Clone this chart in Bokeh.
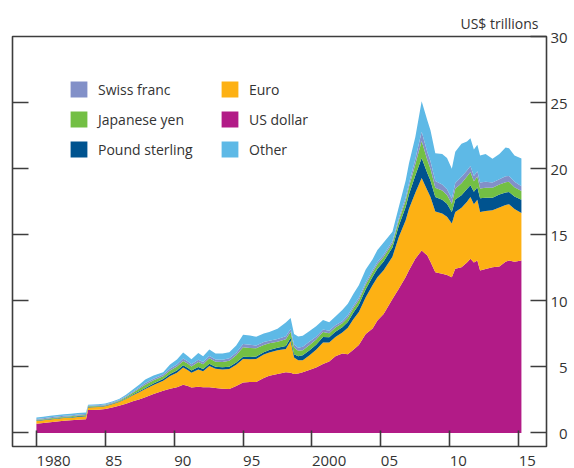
from bokeh.plotting import figure
from bokeh.models import (Range1d, FixedTicker, LinearAxis, Legend, LegendItem,
                          ColumnDataSource)
from bokeh.embed import file_html
from bokeh.resources import INLINE

# ---- data (US$ trillions) ----
years = [1980.00, 1980.50, 1981.00, 1981.50, 1982.00, 1982.50, 1983.00, 1983.60,
         1983.75, 1984.50, 1985.00, 1985.50, 1986.00, 1986.50, 1987.00, 1987.50,
         1987.90, 1988.50, 1989.20, 1989.70, 1990.20, 1990.65, 1991.00, 1991.25,
         1991.75, 1992.10, 1992.55, 1993.00, 1993.50, 1994.00, 1994.50, 1995.00,
         1995.50, 1995.95, 1996.50, 1996.90, 1997.50, 1998.10, 1998.45, 1998.70,
         1999.00, 1999.33, 1999.80, 2000.30, 2000.80, 2001.25, 2001.70, 2002.20,
         2002.60, 2003.00, 2003.40, 2003.90, 2004.40, 2004.75, 2005.20, 2005.84,
         2006.30, 2006.80, 2007.04, 2007.50, 2007.96, 2008.37, 2008.60, 2008.95,
         2009.45, 2009.80, 2010.15, 2010.40, 2010.85, 2011.25, 2011.50, 2011.75,
         2012.00, 2012.20, 2012.60, 2013.10, 2013.60, 2014.05, 2014.30, 2014.70,
         2015.20]
us_dollar = [0.70, 0.74, 0.80, 0.86, 0.92, 0.95, 1.00, 1.04,
             1.74, 1.76, 1.80, 1.92, 2.05, 2.20, 2.40, 2.55,
             2.70, 2.95, 3.19, 3.35, 3.45, 3.64, 3.55, 3.44,
             3.50, 3.45, 3.46, 3.40, 3.35, 3.32, 3.55, 3.82,
             3.85, 3.85, 4.15, 4.32, 4.45, 4.58, 4.55, 4.45,
             4.50, 4.58, 4.76, 4.95, 5.21, 5.40, 5.80, 6.00,
             5.95, 6.30, 6.65, 7.49, 7.90, 8.50, 9.00, 10.14,
             10.90, 11.80, 12.30, 13.18, 13.80, 13.43, 12.95, 12.16,
             12.04, 11.95, 11.78, 12.42, 12.54, 12.90, 13.18, 12.90,
             13.05, 12.29, 12.40, 12.54, 12.60, 12.95, 13.05, 12.95,
             13.05]
euro = [0.20, 0.21, 0.21, 0.21, 0.20, 0.20, 0.21, 0.21,
        0.19, 0.20, 0.22, 0.24, 0.28, 0.36, 0.45, 0.55,
        0.62, 0.68, 0.76, 0.95, 1.10, 1.30, 1.20, 1.12,
        1.30, 1.22, 1.60, 1.45, 1.45, 1.52, 1.60, 1.77,
        1.72, 1.75, 1.78, 1.77, 1.80, 1.77, 2.40, 1.26,
        1.00, 0.92, 1.10, 1.35, 1.64, 1.45, 1.45, 1.60,
        2.00, 2.30, 2.50, 2.78, 3.30, 3.28, 3.30, 3.20,
        3.92, 4.30, 4.67, 5.00, 5.50, 4.93, 4.90, 4.60,
        4.56, 4.40, 4.06, 4.30, 4.50, 4.60, 4.67, 4.40,
        4.60, 4.43, 4.40, 4.31, 4.45, 4.30, 4.25, 4.00,
        3.59]
pound_sterling = [0.04, 0.04, 0.04, 0.04, 0.04, 0.04, 0.04, 0.04,
                  0.03, 0.03, 0.03, 0.04, 0.04, 0.05, 0.06, 0.07,
                  0.08, 0.10, 0.13, 0.15, 0.17, 0.18, 0.17, 0.16,
                  0.18, 0.17, 0.18, 0.16, 0.16, 0.17, 0.17, 0.18,
                  0.18, 0.18, 0.18, 0.19, 0.20, 0.22, 0.25, 0.24,
                  0.30, 0.38, 0.38, 0.38, 0.40, 0.38, 0.40, 0.40,
                  0.45, 0.50, 0.55, 0.60, 0.62, 0.65, 0.68, 0.70,
                  0.85, 1.00, 1.10, 1.30, 1.50, 1.30, 1.25, 1.10,
                  1.05, 1.00, 0.88, 0.95, 0.95, 0.95, 0.90, 0.95,
                  0.95, 1.03, 1.00, 0.95, 1.00, 0.95, 0.93, 0.95,
                  1.01]
japanese_yen = [0.05, 0.05, 0.06, 0.06, 0.06, 0.06, 0.07, 0.07,
                0.05, 0.05, 0.05, 0.05, 0.06, 0.09, 0.13, 0.20,
                0.25, 0.25, 0.20, 0.28, 0.30, 0.33, 0.31, 0.30,
                0.38, 0.36, 0.40, 0.38, 0.40, 0.45, 0.55, 0.71,
                0.68, 0.62, 0.55, 0.50, 0.45, 0.52, 0.45, 0.52,
                0.42, 0.38, 0.40, 0.38, 0.38, 0.32, 0.32, 0.30,
                0.32, 0.33, 0.34, 0.36, 0.34, 0.33, 0.33, 0.32,
                0.40, 0.48, 0.55, 0.85, 1.30, 1.00, 0.90, 0.70,
                0.70, 0.66, 0.63, 0.80, 0.90, 0.95, 1.00, 0.80,
                0.80, 0.75, 0.75, 0.75, 0.75, 0.77, 0.77, 0.70,
                0.65]
swiss_franc = [0.06, 0.06, 0.07, 0.07, 0.07, 0.07, 0.07, 0.07,
               0.05, 0.05, 0.05, 0.05, 0.05, 0.07, 0.08, 0.10,
               0.12, 0.12, 0.13, 0.14, 0.16, 0.18, 0.17, 0.17,
               0.18, 0.17, 0.18, 0.17, 0.18, 0.18, 0.20, 0.25,
               0.24, 0.22, 0.21, 0.20, 0.20, 0.22, 0.22, 0.22,
               0.22, 0.25, 0.25, 0.22, 0.20, 0.18, 0.18, 0.15,
               0.18, 0.18, 0.18, 0.18, 0.17, 0.17, 0.17, 0.17,
               0.20, 0.24, 0.28, 0.40, 0.70, 0.60, 0.55, 0.50,
               0.45, 0.42, 0.38, 0.45, 0.50, 0.45, 0.45, 0.40,
               0.40, 0.45, 0.45, 0.40, 0.40, 0.45, 0.45, 0.40,
               0.36]
other = [0.11, 0.12, 0.12, 0.12, 0.13, 0.12, 0.12, 0.12,
         0.07, 0.08, 0.07, 0.08, 0.09, 0.12, 0.16, 0.22,
         0.28, 0.24, 0.18, 0.30, 0.38, 0.46, 0.40, 0.38,
         0.50, 0.43, 0.50, 0.44, 0.46, 0.46, 0.55, 0.70,
         0.70, 0.66, 0.66, 0.65, 0.78, 1.05, 0.83, 0.80,
         0.85, 0.85, 0.80, 0.80, 0.72, 0.64, 0.65, 0.85,
         0.87, 0.90, 0.95, 0.95, 0.82, 0.92, 0.92, 0.70,
         0.83, 1.28, 1.50, 1.67, 2.30, 2.41, 2.35, 2.10,
         2.30, 2.37, 2.27, 2.35, 2.50, 2.20, 2.10, 2.00,
         2.00, 2.05, 2.10, 1.80, 1.90, 2.18, 2.10, 2.00,
         2.10]

series_keys = ["us_dollar", "euro", "pound_sterling", "japanese_yen", "swiss_franc", "other"]
series_names = ["US dollar", "Euro", "Pound sterling", "Japanese yen", "Swiss franc", "Other"]
series_colors = ["#B21B87", "#FDB114", "#00538F", "#73BF44", "#8290C8", "#5EB9E6"]

x_tick_years = [1980, 1985, 1990, 1995, 2000, 2005, 2010, 2015]
x_tick_labels = ["1980", "85", "90", "95", "2000", "05", "10", "15"]
y_ticks = [0, 5, 10, 15, 20, 25, 30]
y_tick_labels = ["0", "5", "10", "15", "20", "25", "30"]

FONT = "Open Sans"
TEXT = "#333333"
FRAME = "#3d3d3d"

X0, X1 = 1978.265, 2017.02
FRAME_W = 536

source = ColumnDataSource(dict(
    x=years, us_dollar=us_dollar, euro=euro, pound_sterling=pound_sterling,
    japanese_yen=japanese_yen, swiss_franc=swiss_franc, other=other))

p = figure(width=570, height=468,
           x_range=Range1d(X0, X1), y_range=Range1d(-1.03, 30),
           output_backend="svg", toolbar_location=None,
           x_axis_location="below", y_axis_location="right",
           min_border_left=12, min_border_right=22,
           min_border_top=36, min_border_bottom=0)
p.grid.visible = False
p.outline_line_color = FRAME
p.outline_line_width = 1.6
p.background_fill_color = "white"
p.border_fill_color = "white"

renderers = p.varea_stack(series_keys, x="x", color=series_colors, source=source)
rmap = dict(zip(series_names, renderers))

# ---- x axis: tick marks at the years, labels starting at each tick ----
px_per_year = FRAME_W / (X1 - X0)
digit_px = 8.6
label_pos = [round(y + (len(t) * digit_px / 2) / px_per_year, 3)
             for y, t in zip(x_tick_years, x_tick_labels)]
xa = p.xaxis[0]
xa.ticker = FixedTicker(ticks=label_pos, minor_ticks=x_tick_years)
xa.major_label_overrides = {pos: t for pos, t in zip(label_pos, x_tick_labels)}
xa.major_tick_line_color = None
xa.minor_tick_line_color = FRAME
xa.minor_tick_line_width = 1.6
xa.minor_tick_in = 16
xa.minor_tick_out = 0
xa.axis_line_color = None
xa.major_label_standoff = 3
xa.major_label_text_font = FONT
xa.major_label_text_font_size = "15px"
xa.major_label_text_color = TEXT

# ---- right y axis with labels ----
ya = p.yaxis[0]
ya.ticker = FixedTicker(ticks=y_ticks)
ya.major_label_overrides = {v: ("\u2007" + t if len(t) == 1 else t)
                            for v, t in zip(y_ticks, y_tick_labels)}
ya.major_tick_line_color = FRAME
ya.major_tick_line_width = 1.6
ya.major_tick_in = 16
ya.major_tick_out = 0
ya.minor_tick_line_color = None
ya.axis_line_color = None
ya.major_label_standoff = 4
ya.major_label_text_font = FONT
ya.major_label_text_font_size = "15px"
ya.major_label_text_color = TEXT

# ---- left axis: tick marks only ----
la = LinearAxis(ticker=FixedTicker(ticks=y_ticks[:-1]))
la.major_tick_line_color = FRAME
la.major_tick_line_width = 1.6
la.major_tick_in = 16
la.major_tick_out = 0
la.minor_tick_line_color = None
la.axis_line_color = None
la.major_label_text_color = None
la.major_label_text_font_size = "1px"
la.major_label_standoff = 0
p.add_layout(la, "left")

# ---- unit title ----
p.title.text = "US$ trillions"
p.title.align = "right"
p.title.offset = 8
p.title.standoff = 7
p.title.text_font = FONT
p.title.text_font_size = "14px"
p.title.text_font_style = "normal"
p.title.text_color = TEXT

# ---- legend in two columns ----
def make_legend(names, loc):
    lg = Legend(items=[LegendItem(label=n, renderers=[rmap[n]]) for n in names],
                location=loc, orientation="vertical")
    lg.glyph_width = 21
    lg.glyph_height = 20
    lg.label_height = 20
    lg.label_standoff = 9
    lg.spacing = 10
    lg.padding = 0
    lg.margin = 0
    lg.border_line_color = None
    lg.background_fill_alpha = 0
    lg.label_text_font = FONT
    lg.label_text_font_size = "14px"
    lg.label_text_color = TEXT
    return lg

p.add_layout(make_legend(["Swiss franc", "Japanese yen", "Pound sterling"], (56, 287)))
p.add_layout(make_legend(["Euro", "US dollar", "Other"], (207, 287)))

open("out.html", "w").write(file_html(p, INLINE))
